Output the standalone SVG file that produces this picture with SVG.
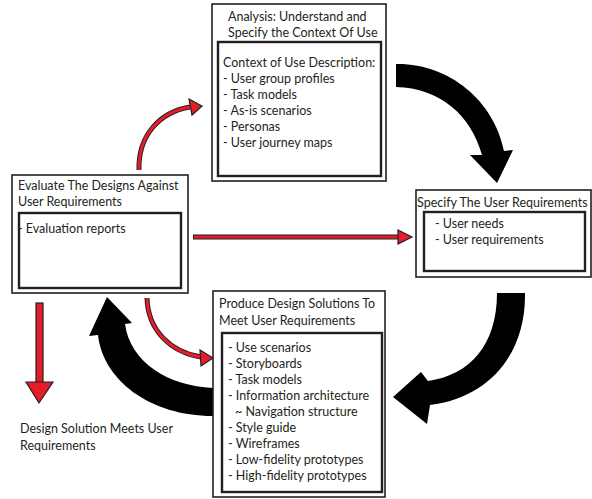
<svg xmlns="http://www.w3.org/2000/svg" width="592" height="499" viewBox="0 0 592 499">
<style>
text{font-family:Lato,"Liberation Sans",sans-serif;font-size:12.5px;fill:#231f20}
.outer{fill:#fff;stroke:#231f20;stroke-width:1.6}
.inner{fill:#fff;stroke:#231f20;stroke-width:2.4}
.blk{fill:#000}
.rs{fill:none;stroke:#231f20;stroke-width:5}
.rf{fill:none;stroke:#e31e2a;stroke-width:3}
.rh{fill:#e31e2a;stroke:#231f20;stroke-width:1.2;stroke-linejoin:miter}
</style>
<rect width="592" height="499" fill="#fff"/>
<g id="connectors">
<path class="blk" d="M396,64 C448,63 494,100 504,151 L513,150 L497,183 L470,155 L482,155 C471,115 440,88 396,87 Z"/>
<path class="blk" d="M497,293 L525,293 C526,355 488,398 430,405 L427,424 L393,397 L421,372 L428,381 C470,375 497,345 497,293 Z"/>
<path class="blk" d="M213,388 C168,386 130,362 125,324 L132,323 L107,297 L89,336 L98,335 C103,380 150,416 213,416 Z"/>
<path class="rs" d="M139,170 C138,135 160,112 190,107"/>
<path class="rf" d="M139,170 C138,135 160,112 190,107"/>
<polygon class="rh" points="189,99 202,106 192,115"/>
<line class="rs" x1="193" y1="237" x2="399" y2="237"/>
<line class="rf" x1="194" y1="237" x2="399" y2="237"/>
<polygon class="rh" points="398,230 412,237 398,244"/>
<path class="rs" d="M147,298 C148,330 170,352 201,357"/>
<path class="rf" d="M147,298 C148,330 170,352 201,357"/>
<polygon class="rh" points="200,350 213,358 201,366"/>
<rect class="rh" x="36" y="303" width="7" height="80"/>
<polygon class="rh" points="26,382 53,382 39,403"/>
</g>
<g id="analysis">
<rect class="outer" x="212" y="4" width="174" height="177"/>
<rect class="inner" x="218" y="42" width="163" height="134"/>
<text x="228" y="21">Analysis: Understand and</text>
<text x="228" y="37">Specify the Context Of Use</text>
<text x="223" y="67">Context of Use Description:</text>
<text x="223" y="83">- User group profiles</text>
<text x="223" y="99">- Task models</text>
<text x="223" y="115">- As-is scenarios</text>
<text x="223" y="131">- Personas</text>
<text x="223" y="147">- User journey maps</text>
</g>
<g id="evaluate">
<rect class="outer" x="12" y="175" width="176" height="118"/>
<rect class="inner" x="19" y="213" width="162" height="75"/>
<text x="18" y="190">Evaluate The Designs Against</text>
<text x="18" y="206">User Requirements</text>
<text x="18" y="233">- Evaluation reports</text>
</g>
<g id="specify">
<rect class="outer" x="416" y="190" width="175" height="87"/>
<rect class="inner" x="424" y="212" width="161" height="59"/>
<text x="417" y="207">Specify The User Requirements</text>
<text x="435" y="228">- User needs</text>
<text x="435" y="244">- User requirements</text>
</g>
<g id="produce">
<rect class="outer" x="213" y="291" width="172" height="206"/>
<rect class="inner" x="222" y="333" width="160" height="159"/>
<text x="219" y="308">Produce Design Solutions To</text>
<text x="219" y="325">Meet User Requirements</text>
<text x="228" y="352">- Use scenarios</text>
<text x="228" y="368">- Storyboards</text>
<text x="228" y="384">- Task models</text>
<text x="228" y="400">- Information architecture</text>
<text x="235" y="416">~ Navigation structure</text>
<text x="228" y="432">- Style guide</text>
<text x="228" y="448">- Wireframes</text>
<text x="228" y="464">- Low-fidelity prototypes</text>
<text x="228" y="480">- High-fidelity prototypes</text>
</g>
<g id="outcome">
<text x="20" y="433">Design Solution Meets User</text>
<text x="20" y="450">Requirements</text>
</g>
</svg>
